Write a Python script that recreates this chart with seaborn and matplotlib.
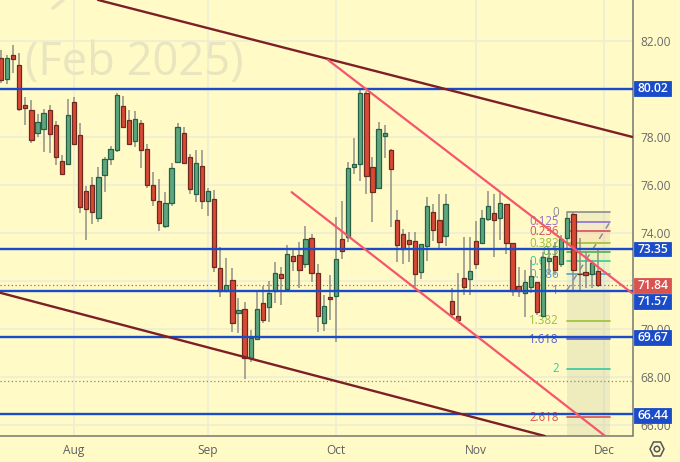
import matplotlib
matplotlib.use("Agg")
import matplotlib.pyplot as plt
import matplotlib.patches as mp
import seaborn as sns
import pandas as pd

body_top = [81.28,81.28,81.42,80.99,79.32,79.11,78.62,78.99,79.11,78.51,77.01,78.92,79.44,78.07,75.75,76.0,76.32,77.10,77.50,79.74,
 79.28,78.71,78.75,78.60,77.50,76.0,75.32,75.24,76.70,78.40,78.15,77.17,76.93,76.78,75.75,75.40,72.54,71.82,72.03,70.78,
 70.82,69.64,70.82,71.10,71.50,72.32,72.31,73.12,73.04,73.07,73.74,73.78,72.32,70.97,71.33,72.92,73.74,76.69,76.89,79.82,
 79.82,76.74,78.35,78.15,77.46,74.54,73.94,73.69,73.65,73.53,75.14,74.86,74.53,75.19,71.17,70.55,72.11,72.43,73.68,74.61,
 75.11,74.82,75.24,75.19,73.57,71.78,71.94,72.22,71.94,73.00,72.94,73.04,73.74,74.61,74.78,72.31,72.36,72.75,72.43]
body_bot = [80.38,80.40,81.25,79.15,79.22,77.86,78.18,78.35,78.14,77.17,76.47,76.87,77.72,75.10,74.99,74.89,74.61,76.43,77.08,77.47,
 78.43,77.72,77.85,77.44,75.99,75.38,74.40,74.31,75.26,76.94,76.92,75.82,75.62,75.33,75.33,72.60,71.60,71.60,70.24,70.68,
 68.79,68.81,69.60,70.39,70.93,71.60,72.14,71.68,72.82,72.47,72.71,72.35,70.55,70.26,71.24,71.36,73.24,73.83,76.76,76.87,
 76.39,75.71,75.86,78.05,76.68,73.51,73.35,73.56,72.31,72.39,73.44,74.12,73.64,73.89,70.61,70.36,71.74,72.10,72.71,73.60,
 74.57,74.53,74.61,73.60,71.60,71.60,71.49,71.74,70.72,70.55,72.85,72.46,72.71,73.78,72.47,72.28,72.26,72.28,71.84]
highs = [81.63,81.42,81.83,81.51,79.68,79.54,78.94,79.17,79.32,78.68,77.25,79.58,79.65,78.57,75.96,76.35,76.76,77.18,77.64,79.82,
 79.71,79.12,79.08,78.71,77.69,76.53,76.25,75.69,76.90,78.57,78.43,77.29,77.46,77.46,75.89,75.79,73.40,72.97,72.53,71.31,
 71.14,69.96,71.53,71.79,72.0,72.81,72.60,73.50,73.29,73.61,74.31,73.96,72.71,71.42,72.25,74.68,75.33,76.97,77.94,79.98,
 79.93,77.18,78.61,78.50,77.50,74.96,74.15,74.05,74.05,73.53,75.51,75.19,75.61,75.61,71.69,72.35,73.82,73.82,74.51,74.96,
 75.76,75.61,75.65,75.19,73.57,72.57,72.46,72.89,71.94,73.22,73.36,73.64,73.92,74.86,74.86,73.78,73.22,72.89,73.29]
lows = [80.24,80.21,80.68,79.10,78.50,77.74,78.01,77.36,77.32,76.83,76.44,76.85,77.71,74.82,73.71,74.38,74.47,75.69,76.83,77.39,
 78.36,77.67,77.60,76.69,75.86,75.13,74.08,74.19,75.14,76.90,76.90,75.61,75.31,75.0,74.72,72.39,71.32,71.57,69.89,69.82,
 67.92,68.62,69.57,70.24,70.31,71.07,71.0,71.56,72.43,71.69,72.53,71.97,69.89,69.93,70.37,69.47,72.92,73.64,76.46,76.18,
 75.61,74.47,75.83,77.11,74.26,72.78,72.71,72.81,71.76,72.08,72.85,73.68,73.32,73.47,70.44,70.36,71.43,71.43,72.49,73.57,
 74.51,72.99,73.71,73.12,71.37,71.35,70.49,71.49,70.58,70.51,72.25,72.25,72.60,73.29,71.56,71.58,71.69,71.69,71.76]
up_index = [1,6,7,11,16,17,18,19,22,27,28,29,32,34,37,39,41,42,44,45,47,50,53,55,57,58,59,62,63,69,70,73,77,79,80,82,86,87,89,90,92,93,97]

month_labels = ["Aug","Sep","Oct","Nov","Dec"]
month_index = [12,34,55,78,99]

level_values = [80.02,73.35,71.57,69.67,66.44]
level_label_y = [80.02,73.33,71.15,69.65,66.40]
last_price = 71.84
low_marker = 67.85
price_ticks = [66,68,70,72,74,76,78,80,82]
price_tick_labels = ["66.00","68.00","70.00","","74.00","76.00","78.00","","82.00"]

trend_names = ["d1","d1","d2","d2","p1","p1","p2","p2"]
trend_x = [15.93,103.7,-0.16,89.3,53.7,103.6,47.73,99.2]
trend_y = [83.71,78.0,71.51,65.54,81.21,71.5,75.70,65.54]

fib_names = ["0","0.125","0.236","0.382","0.5","0.618","0.786","1","1.382","1.618","2","2.618"]
fib_prices = [74.86,74.46,74.08,73.58,73.22,72.83,72.27,71.60,70.35,69.58,68.34,66.33]
fib_colors = ["#8a8c92","#8e6fd0","#d9504f","#9cbf3a","#4caf50","#35c9a0","#4da3dc","#8a8c92","#9cbf3a","#5c5fc4","#35c9a0","#d9504f"]

sns.set_theme(style="white")
plt.rcParams["font.family"] = ["Open Sans", "DejaVu Sans"]
BG = "#FFFAC6"
fig = plt.figure(figsize=(6.8, 4.62), dpi=100, facecolor=BG)
ax = fig.add_axes([0, 26/462, 632.5/680, 436/462], facecolor=BG)
ax.set_xlim(-0.164, 103.7)
ax.set_ylim(65.54, 83.708)

ax.set_axisbelow(True)
ax.set_yticks(price_ticks, price_tick_labels)
ax.set_xticks(month_index, month_labels)
ax.grid(True, color="#EEECD6", lw=1.1)
ax.yaxis.tick_right()
ax.tick_params(axis="y", length=0, pad=6, labelsize=8.6, labelcolor="#6a6a6a")
ax.tick_params(axis="x", length=0, pad=6, labelsize=8.6, labelcolor="#5f5f5f")
for s in ["left", "top"]:
    ax.spines[s].set_visible(False)
for s in ["right", "bottom"]:
    ax.spines[s].set_color("#77776f")
    ax.spines[s].set_linewidth(1.1)

# watermark
ax.text(3.94, 80.58, "(Feb 2025)", fontsize=32.6, color="#E9E5BE", ha="left", va="baseline", zorder=0.6)
ax.plot([10.18, 8.54], [83.71, 83.375], color="#E9E5BE", lw=2.6, zorder=0.6)

# fib zones
fx0, fx1 = 92.9, 100.0
for k in range(7):
    ax.fill_between([fx0, fx1], fib_prices[k], fib_prices[k + 1], color=fib_colors[k], alpha=0.10, lw=0, zorder=1)
ax.fill_between([fx0, fx1], 65.54, fib_prices[7], color="#7f8f7a", alpha=0.13, lw=0, zorder=1)
for p, c, n in zip(fib_prices, fib_colors, fib_names):
    ax.plot([fx0, fx1], [p, p], color=c, lw=1.2, zorder=1.5)
    ax.text(91.6, p, n, color=c, fontsize=8.3, ha="right", va="center", zorder=1.6)
ax.plot([fx0, fx1], [fib_prices[7], fib_prices[1]], color="#8a8c92", lw=1.1, ls=(0, (4, 4)), zorder=1.5)

# dotted lines
ax.axhline(last_price, color="#D9534F", lw=0.9, ls=(0, (1, 2)), zorder=1.7)
ax.axhline(low_marker, color="#8a8a80", lw=0.9, ls=(0, (1, 2)), zorder=1.7)

# candles
idx = list(range(len(body_top)))
candles = pd.DataFrame({"i": idx, "top": body_top, "bot": body_bot, "high": highs, "low": lows})
candles["up"] = candles["i"].isin(up_index)
ax.vlines(candles["i"], candles["low"], candles["high"], color="#8f8f88", lw=1.1, zorder=2)
for up, face, edge in [(True, "#5FA67F", "#255F45"), (False, "#D94A35", "#6E2A20")]:
    sel = candles[candles["up"] == up]
    ax.bar(sel["i"], sel["top"] - sel["bot"], bottom=sel["bot"], width=0.7, color=face, edgecolor=edge, linewidth=0.9, zorder=3)

# horizontal levels
for v in level_values:
    ax.axhline(v, color="#1A4BC8", lw=1.7, zorder=4)

# trend lines
trends = pd.DataFrame({"name": trend_names, "x": trend_x, "y": trend_y})
sns.lineplot(data=trends[trends["name"].isin(["d1", "d2"])], x="x", y="y", units="name", estimator=None,
             color="#7C1F26", lw=1.7, ax=ax, zorder=4.5, legend=False)
sns.lineplot(data=trends[trends["name"].isin(["p1", "p2"])], x="x", y="y", units="name", estimator=None,
             color="#F5566C", lw=1.6, ax=ax, zorder=4.5, legend=False)
ax.set_xlabel("")
ax.set_ylabel("")
ax.set_xlim(-0.164, 103.7)
ax.set_ylim(65.54, 83.708)

# price boxes
yt = ax.get_yaxis_transform()
def box(y, txt, col):
    ax.add_patch(mp.Rectangle((1.002, y - 0.31), 0.0595, 0.62, transform=yt,
                              facecolor=col, edgecolor=col, lw=0.6, clip_on=False, zorder=6))
    ax.text(1.032, y - 0.01, txt, transform=yt, color="white", fontsize=8.7, fontweight="semibold", ha="center", va="center",
            clip_on=False, zorder=7)
for v, ly in zip(level_values, level_label_y):
    box(ly, f"{v:.2f}", "#1A4BC8")
box(71.82, f"{last_price:.2f}", "#D9534F")

# gear icon
to_fig = fig.transFigure
cx, cy = 657 / 680, 1 - 449 / 462
fig.add_artist(mp.Polygon([(cx - 7 / 680, cy), (cx - 3.5 / 680, cy + 7 / 462), (cx + 3.5 / 680, cy + 7 / 462),
                           (cx + 7 / 680, cy), (cx + 3.5 / 680, cy - 7 / 462), (cx - 3.5 / 680, cy - 7 / 462)],
                          closed=True, fill=False, ec="#555555", lw=1.1, transform=to_fig))
fig.add_artist(mp.Ellipse((cx, cy), 5.5 / 680, 5.5 / 462, fill=False, ec="#555555", lw=1.1, transform=to_fig))

fig.savefig("out.png", dpi=100, facecolor=BG)
